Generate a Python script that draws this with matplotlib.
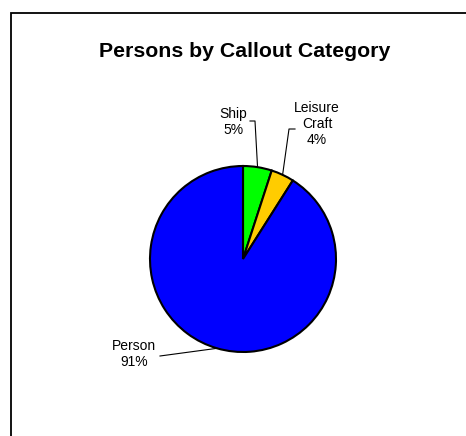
import numpy as np
import matplotlib.pyplot as plt
from matplotlib.patches import Rectangle

plt.rcParams['font.family'] = ['Liberation Sans', 'DejaVu Sans']

categories = ['Ship', 'Leisure\nCraft', 'Person']
shares = [5, 4, 91]
colors = ['#00ff00', '#ffcc00', '#0000ff']

W, H = 466, 436
fig = plt.figure(figsize=(W / 100, H / 100), dpi=100)
ax = fig.add_axes([0, 0, 1, 1])
ax.set_xlim(0, W)
ax.set_ylim(0, H)
ax.set_aspect('equal')
ax.axis('off')

# chart frame (only left/top edges visible in the original)
ax.add_patch(Rectangle((11, -10), W, H - 13 + 10, fill=False, lw=1.3, ec='black'))

cx, cy, r = 243, H - 259, 93
wedges, _ = ax.pie(shares, colors=colors, startangle=90, counterclock=False,
                   center=(cx, cy), radius=r, frame=True,
                   wedgeprops=dict(edgecolor='black', linewidth=1.5))
ax.set_xlim(0, W)
ax.set_ylim(0, H)
ax.axis('off')

ax.text(245, H - 52, 'Persons by Callout Category', ha='center', va='center',
        fontsize=15.3, fontweight='bold')

# label positions (pixels from top) and leader elbows
label_xy = [(233, 122), (317, 124), (134, 354)]
elbows = [[(250, 121), (255, 121)], [(295, 129), (289, 129)], [(160, 356)]]

for w, name, pct, (lx, ly), elb in zip(wedges, categories, shares, label_xy, elbows):
    ang = np.deg2rad((w.theta1 + w.theta2) / 2)
    ex, ey = cx + r * np.cos(ang), cy + r * np.sin(ang)
    pts = [(x, H - y) for x, y in elb] + [(ex, ey)]
    xs, ys = zip(*pts)
    ax.plot(xs, ys, color='black', lw=0.8)
    ax.text(lx, H - ly, f'{name}\n{pct}%', ha='center', va='center',
            fontsize=10, linespacing=1.15)

fig.savefig('out.png', dpi=100)
